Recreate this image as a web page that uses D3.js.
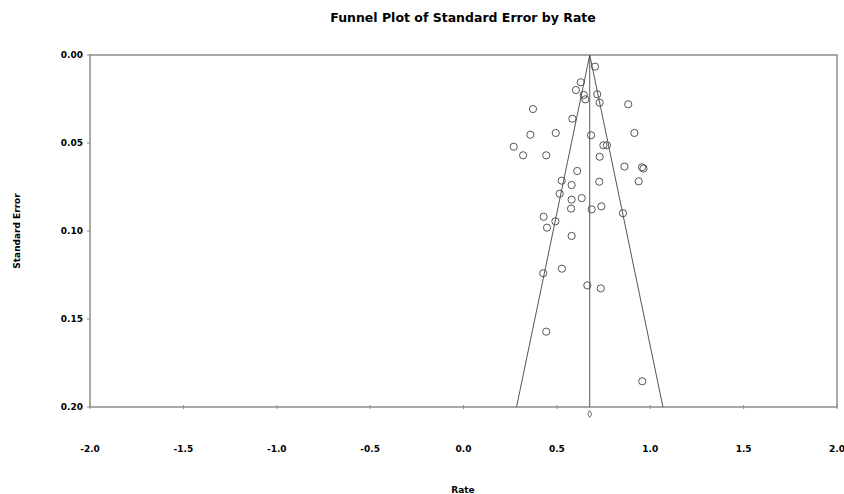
<!DOCTYPE html>
<html>
<head>
<meta charset="utf-8">
<script src="https://cdn.jsdelivr.net/npm/d3@7"></script>
<style>
  body { margin: 0; background: #fff; }
  text { font-family: "DejaVu Sans", Verdana, sans-serif; font-weight: bold; fill: #000; }
</style>
</head>
<body>
<svg id="chart" width="844" height="494"></svg>
<script>
// study rates and their standard errors
var rates = [0.704, 0.628, 0.602, 0.644, 0.652, 0.716, 0.729, 0.882, 0.372, 0.583,
             0.358, 0.494, 0.683, 0.915, 0.269, 0.749, 0.768, 0.319, 0.443, 0.729,
             0.862, 0.956, 0.964, 0.609, 0.526, 0.579, 0.727, 0.938, 0.515, 0.579,
             0.633, 0.576, 0.686, 0.738, 0.854, 0.429, 0.492, 0.447, 0.579, 0.527,
             0.427, 0.663, 0.735, 0.443, 0.957];
var stdErrs = [0.0066, 0.0155, 0.0199, 0.0227, 0.0252, 0.0223, 0.0271, 0.0280, 0.0307, 0.0362,
               0.0453, 0.0443, 0.0456, 0.0443, 0.0521, 0.0513, 0.0513, 0.0570, 0.0570, 0.0578,
               0.0634, 0.0638, 0.0645, 0.0659, 0.0714, 0.0739, 0.0720, 0.0718, 0.0788, 0.0822,
               0.0813, 0.0873, 0.0877, 0.0860, 0.0899, 0.0919, 0.0945, 0.0981, 0.1028, 0.1214,
               0.1240, 0.1309, 0.1326, 0.1572, 0.1854];
var pooledRate = 0.676;
var xTicks = [-2.0, -1.5, -1.0, -0.5, 0.0, 0.5, 1.0, 1.5, 2.0];
var yTicks = [0.00, 0.05, 0.10, 0.15, 0.20];

var svg = d3.select("#chart");
var plotL = 90, plotR = 837, plotT = 55, plotB = 407;

var x = d3.scaleLinear().domain([-2, 2]).range([plotL, plotR]);
var y = d3.scaleLinear().domain([0, 0.2]).range([plotT, plotB]);

// frame
svg.append("rect")
    .attr("x", plotL).attr("y", plotT)
    .attr("width", plotR - plotL).attr("height", plotB - plotT)
    .attr("fill", "none").attr("stroke", "#8c8c8c").attr("stroke-width", 1.5);

// ticks
svg.selectAll(".xtick").data(xTicks).enter().append("line")
    .attr("x1", function(d) { return x(d); }).attr("x2", function(d) { return x(d); })
    .attr("y1", plotB - 2).attr("y2", plotB + 2)
    .attr("stroke", "#8c8c8c");
svg.selectAll(".ytick").data(yTicks).enter().append("line")
    .attr("x1", plotL - 3).attr("x2", plotL)
    .attr("y1", function(d) { return y(d); }).attr("y2", function(d) { return y(d); })
    .attr("stroke", "#8c8c8c");

svg.selectAll(".xlab").data(xTicks).enter().append("text")
    .attr("x", function(d) { return x(d); }).attr("y", 452)
    .attr("text-anchor", "middle").attr("font-size", "9px")
    .text(function(d) { return d3.format(".1f")(d).replace("−", "-"); });
svg.selectAll(".ylab").data(yTicks).enter().append("text")
    .attr("x", 83).attr("y", function(d) { return y(d) + 3; })
    .attr("text-anchor", "end").attr("font-size", "9px")
    .text(function(d) { return d3.format(".2f")(d); });

// funnel (95% limits)
var seMax = 0.2;
var funnel = [[pooledRate - 1.96 * seMax, seMax], [pooledRate, 0], [pooledRate + 1.96 * seMax, seMax]];
svg.append("path")
    .attr("d", d3.line().x(function(d) { return x(d[0]); }).y(function(d) { return y(d[1]); })(funnel))
    .attr("fill", "none").attr("stroke", "#555").attr("stroke-width", 1);
svg.append("line")
    .attr("x1", x(pooledRate)).attr("x2", x(pooledRate))
    .attr("y1", y(0)).attr("y2", y(seMax))
    .attr("stroke", "#555").attr("stroke-width", 1);

// studies
svg.selectAll(".pt").data(rates).enter().append("circle")
    .attr("cx", function(d) { return x(d); })
    .attr("cy", function(d, i) { return y(stdErrs[i]); })
    .attr("r", 3.6)
    .attr("fill", "none").attr("stroke", "#444").attr("stroke-width", 0.9);

// pooled estimate diamond
var dx = x(pooledRate), dy = 414;
svg.append("path")
    .attr("d", "M" + dx + "," + (dy - 3.5) + "L" + (dx + 2) + "," + dy + "L" + dx + "," + (dy + 3.5) + "L" + (dx - 2) + "," + dy + "Z")
    .attr("fill", "none").attr("stroke", "#555").attr("stroke-width", 0.8);

// titles
svg.append("text").attr("x", 463).attr("y", 22)
    .attr("text-anchor", "middle").attr("font-size", "12.5px")
    .text("Funnel Plot of Standard Error by Rate");
svg.append("text").attr("x", 463).attr("y", 493)
    .attr("text-anchor", "middle").attr("font-size", "9px")
    .text("Rate");
svg.append("text")
    .attr("transform", "translate(20,231) rotate(-90)")
    .attr("text-anchor", "middle").attr("font-size", "9px")
    .text("Standard Error");
</script>
</body>
</html>
